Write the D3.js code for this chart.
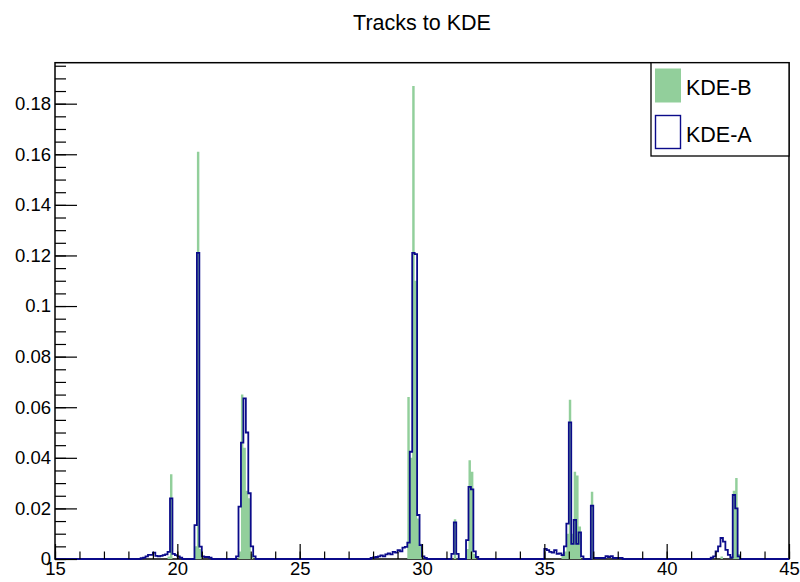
<!DOCTYPE html>
<html>
<head>
<meta charset="utf-8">
<script src="https://cdn.jsdelivr.net/npm/d3@7"></script>
<style>
  html, body { margin: 0; padding: 0; background: #fff; }
  svg { display: block; }
</style>
</head>
<body>
<svg width="800" height="582"></svg>
<script>
'use strict';
const svg = d3.select('svg');

// histogram definition
const x_min = 15;
const x_max = 45;
const bin_width = 0.1;
const y_top = 0.1962;

// [bin low edge, content] for non-empty bins
const kde_b = [
  [19.6, 0.001], [19.7, 0.0335],
  [20.7, 0.005], [20.8, 0.161], [20.9, 0.004],
  [22.5, 0.003], [22.6, 0.065], [22.7, 0.044], [22.8, 0.027], [22.9, 0.024], [23.0, 0.002],
  [29.4, 0.064], [29.5, 0.04], [29.6, 0.187], [29.7, 0.11], [29.8, 0.016], [29.9, 0.006],
  [31.3, 0.0157],
  [31.8, 0.004], [31.9, 0.039], [32.0, 0.0345], [32.1, 0.002],
  [35.7, 0.002], [35.8, 0.003], [35.9, 0.01], [36.0, 0.063], [36.1, 0.01], [36.2, 0.0345], [36.3, 0.033], [36.4, 0.0128],
  [36.9, 0.0266],
  [42.2, 0.001], [42.7, 0.027], [42.8, 0.032], [42.9, 0.002]
];
const kde_a = [
  [18.5, 0.0003], [18.6, 0.0005], [18.7, 0.001], [18.8, 0.0016], [18.9, 0.0016], [19.0, 0.0025],
  [19.1, 0.0012], [19.2, 0.001], [19.3, 0.0012], [19.4, 0.0015], [19.5, 0.0018], [19.6, 0.0028],
  [19.7, 0.024], [19.8, 0.002], [19.9, 0.0015], [20.0, 0.001], [20.1, 0.0005],
  [20.7, 0.0134], [20.8, 0.121], [20.9, 0.0049], [21.0, 0.001], [21.1, 0.0008], [21.2, 0.0008], [21.3, 0.0005],
  [22.4, 0.001], [22.5, 0.0207], [22.6, 0.046], [22.7, 0.0635], [22.8, 0.05], [22.9, 0.026], [23.0, 0.005], [23.1, 0.001],
  [27.9, 0.0004], [28.0, 0.0006], [28.1, 0.0008], [28.2, 0.001], [28.3, 0.0014], [28.4, 0.001],
  [28.5, 0.0018], [28.6, 0.0022], [28.7, 0.0018], [28.8, 0.0028], [28.9, 0.0025], [29.0, 0.0035],
  [29.1, 0.003], [29.2, 0.0045], [29.3, 0.0048], [29.4, 0.0065], [29.5, 0.0424], [29.6, 0.121],
  [29.7, 0.1205], [29.8, 0.0174], [29.9, 0.0055], [30.0, 0.001], [30.1, 0.0004],
  [31.2, 0.002], [31.3, 0.0145], [31.4, 0.002],
  [31.8, 0.0075], [31.9, 0.0285], [32.0, 0.0275], [32.1, 0.003], [32.2, 0.0008],
  [35.0, 0.004], [35.1, 0.0035], [35.2, 0.0028], [35.3, 0.0025], [35.4, 0.0035], [35.5, 0.002],
  [35.6, 0.0022], [35.7, 0.0015], [35.8, 0.005], [35.9, 0.014], [36.0, 0.054], [36.1, 0.006],
  [36.2, 0.0155], [36.3, 0.006], [36.4, 0.0105], [36.5, 0.001],
  [36.9, 0.0211], [37.0, 0.0004], [37.1, 0.0004], [37.2, 0.0004], [37.3, 0.0004], [37.4, 0.0004],
  [37.5, 0.0011], [37.6, 0.0008], [37.7, 0.0011], [37.8, 0.0004], [37.9, 0.0004], [38.0, 0.0004], [38.1, 0.0004],
  [41.8, 0.0005], [41.9, 0.001], [42.0, 0.003], [42.1, 0.005], [42.2, 0.0083], [42.3, 0.0069],
  [42.4, 0.0036], [42.5, 0.0016], [42.6, 0.0006], [42.7, 0.0253], [42.8, 0.02], [42.9, 0.001]
];

const x_major = [15, 20, 25, 30, 35, 40, 45];
const y_major = [0, 0.02, 0.04, 0.06, 0.08, 0.1, 0.12, 0.14, 0.16, 0.18];
const y_labels = ['0', '0.02', '0.04', '0.06', '0.08', '0.1', '0.12', '0.14', '0.16', '0.18'];
const legend_labels = ['KDE-B', 'KDE-A'];
const title_text = 'Tracks to KDE';

const frame = {left: 55, right: 789, top: 62.7, bottom: 559};
const font = "'Liberation Sans', Arial, Helvetica, sans-serif";
const green = '#92cf9b';
const blue = '#0b0b8a';

const x_scale = d3.scaleLinear().domain([x_min, x_max]).range([frame.left, frame.right]);
const y_scale = d3.scaleLinear().domain([0, y_top]).range([frame.bottom, frame.top]);

// fill every bin, empty ones at zero
const bin_count = Math.round((x_max - x_min) / bin_width);
function to_bins(pairs){
  const contents = new Array(bin_count).fill(0);
  for(const [lo, v] of pairs){
    contents[Math.round((lo - x_min) / bin_width)] = v;
  }
  const pts = contents.map((v, i) => [x_min + i * bin_width, v]);
  pts.push([x_max, contents[bin_count - 1]]);
  return pts;
}
const bins_b = to_bins(kde_b);
const bins_a = to_bins(kde_a);

//frame
svg.append('rect')
  .attr('x', frame.left)
  .attr('y', frame.top)
  .attr('width', frame.right - frame.left)
  .attr('height', frame.bottom - frame.top)
  .attr('fill', 'none')
  .attr('stroke', '#000')
  .attr('stroke-width', 1.5);

//KDE-B filled histogram
const area = d3.area()
  .curve(d3.curveStepAfter)
  .x(d => x_scale(d[0]))
  .y0(y_scale(0))
  .y1(d => y_scale(d[1]));
svg.append('path')
  .datum(bins_b)
  .attr('d', area)
  .attr('fill', green);

//KDE-A outline
const line = d3.line()
  .curve(d3.curveStepAfter)
  .x(d => x_scale(d[0]))
  .y(d => y_scale(d[1]));
svg.append('path')
  .datum(bins_a)
  .attr('d', line)
  .attr('fill', 'none')
  .attr('stroke', blue)
  .attr('stroke-width', 1.8);

//x axis
const no_domain = g => g.select('.domain').remove();
svg.append('g')
  .attr('transform', `translate(0,${frame.bottom})`)
  .call(d3.axisBottom(x_scale).tickValues(d3.range(x_min, x_max + 1, 1)).tickSize(-7.5).tickFormat(''))
  .call(no_domain);
svg.append('g')
  .attr('transform', `translate(0,${frame.bottom})`)
  .call(d3.axisBottom(x_scale).tickValues(x_major).tickSize(-15).tickPadding(3).tickFormat(d3.format('d')))
  .call(no_domain)
  .attr('font-family', font)
  .attr('font-size', 18.5);

//y axis
const y_minor = d3.range(0, 40).map(i => i * 0.005).filter(v => v <= y_top);
svg.append('g')
  .attr('transform', `translate(${frame.left},0)`)
  .call(d3.axisLeft(y_scale).tickValues(y_minor).tickSize(-11).tickFormat(''))
  .call(no_domain);
svg.append('g')
  .attr('transform', `translate(${frame.left},0)`)
  .call(d3.axisLeft(y_scale).tickValues(y_major).tickSize(-22).tickPadding(4).tickFormat((d, i) => y_labels[i]))
  .call(no_domain)
  .attr('font-family', font)
  .attr('font-size', 18.5);

svg.selectAll('.tick line').attr('stroke', '#000').attr('stroke-width', 1.2);
svg.selectAll('.tick text').attr('fill', '#000');

//title
svg.append('text')
  .attr('x', 422)
  .attr('y', 30)
  .attr('text-anchor', 'middle')
  .attr('font-family', font)
  .attr('font-size', 21.5)
  .text(title_text);

//legend
const legend = svg.append('g');
legend.append('rect')
  .attr('x', 651)
  .attr('y', frame.top)
  .attr('width', frame.right - 651)
  .attr('height', 156 - frame.top)
  .attr('fill', '#fff')
  .attr('stroke', '#000')
  .attr('stroke-width', 1.3);
legend.append('rect')
  .attr('x', 655)
  .attr('y', 68.5)
  .attr('width', 26)
  .attr('height', 34)
  .attr('fill', green);
legend.append('rect')
  .attr('x', 655.5)
  .attr('y', 115.5)
  .attr('width', 25)
  .attr('height', 33)
  .attr('fill', '#fff')
  .attr('stroke', blue)
  .attr('stroke-width', 1.4);
legend.selectAll('text.label')
  .data(legend_labels)
  .enter()
  .append('text')
    .attr('class', 'label')
    .attr('x', 686)
    .attr('y', (d, i) => 94.5 + i * 47.3)
    .attr('font-family', font)
    .attr('font-size', 21.5)
    .text(d => d);
</script>
</body>
</html>
